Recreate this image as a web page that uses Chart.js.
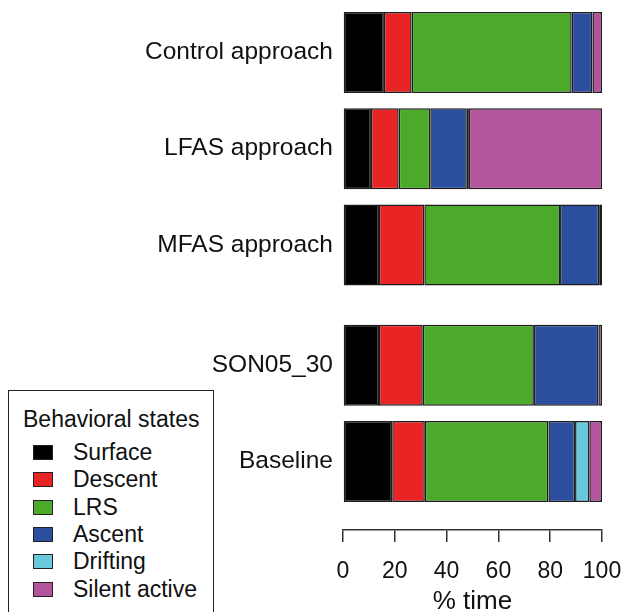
<!DOCTYPE html>
<html>
<head>
<meta charset="utf-8">
<script src="https://cdn.jsdelivr.net/npm/chart.js@4.4.1/dist/chart.umd.min.js"></script>
<style>
  html, body { margin: 0; padding: 0; background: #fff; }
  #cadre { position: relative; width: 622px; height: 612px; overflow: hidden; }
  #legende {
    position: absolute; left: 8px; top: 390px; width: 204px; height: 240px;
    border: 1.5px solid #222; background: #fff;
    font-family: 'Liberation Sans', Arial, sans-serif; color: #111;
  }
  #legende .titre { position: absolute; left: 14px; top: 14px; font-size: 23px; line-height: 28px; }
  #legende .ligne { position: absolute; left: 24px; font-size: 23px; line-height: 28px; height: 28px; }
  #legende .carre {
    position: absolute; left: 0; top: 7px; width: 18px; height: 13px;
    border: 1px solid #222; box-sizing: content-box;
  }
  #legende .texte { position: absolute; left: 40px; top: 0; white-space: nowrap; }
</style>
</head>
<body>
<div id="cadre">
  <canvas id="graphique" width="622" height="612"></canvas>
  <div id="legende"></div>
</div>
<script>
// ================================
// DONNÉES
// ================================

// categories, du haut vers le bas
const CATEGORIES = ['Control approach', 'LFAS approach', 'MFAS approach', 'SON05_30', 'Baseline'];
// position de chaque barre sur l'axe (écart plus grand avant SON05_30)
const POSITIONS = [4.25, 3.25, 2.25, 1, 0];

const ETATS = ['Surface', 'Descent', 'LRS', 'Ascent', 'Drifting', 'Silent active'];
const COULEURS = ['#000000', '#e82424', '#4caa2b', '#2b4f9e', '#68c8dc', '#b3559c'];

// % du temps par état
const SURFACE  = [15.8, 10.8, 13.9, 13.9, 19.0];
const DESCENT  = [10.7, 10.7, 17.5, 16.9, 12.6];
const LRS      = [61.8, 12.2, 52.4, 42.9, 47.7];
const ASCENT   = [ 8.0, 14.1, 15.1, 24.9, 10.3];
const DRIFTING = [ 0.0,  0.8,  0.0,  0.0,  5.5];
const SILENT   = [ 3.7, 51.4,  1.1,  1.4,  4.9];

const X_TICKS = [0, 20, 40, 60, 80, 100];

const POLICE = "'Liberation Sans', Arial, sans-serif";

// ================================
// GRAPHIQUE
// ================================

const series = [SURFACE, DESCENT, LRS, ASCENT, DRIFTING, SILENT];

const datasets = series.map(function(valeurs, i) {
  return {
    label: ETATS[i],
    data: valeurs.map(function(v, j) { return { x: v, y: POSITIONS[j] }; }),
    backgroundColor: COULEURS[i],
    borderColor: '#1c1c1c',
    borderWidth: 1.5,
    borderSkipped: false,
    barPercentage: 0.84,
    categoryPercentage: 1
  };
});

new Chart(document.getElementById('graphique'), {
  type: 'bar',
  data: { datasets: datasets },
  options: {
    indexAxis: 'y',
    responsive: false,
    animation: false,
    layout: { padding: { top: 4, right: 20, bottom: 0, left: 0 } },
    plugins: {
      legend: { display: false },
      tooltip: { enabled: false }
    },
    scales: {
      x: {
        type: 'linear',
        stacked: true,
        min: 0,
        max: 100,
        afterBuildTicks: function(scale) {
          scale.ticks = X_TICKS.map(function(v) { return { value: v }; });
        },
        afterFit: function(scale) {
          scale.height = 82;
          scale.paddingLeft = 0;
          scale.paddingRight = 0;
        },
        ticks: { color: '#111', padding: 16, font: { family: POLICE, size: 23 } },
        grid: { drawOnChartArea: false, drawTicks: true, tickLength: 12, color: '#333', lineWidth: 1.5 },
        border: { display: true, color: '#333', width: 1.5 },
        title: {
          display: true,
          text: '% time',
          color: '#111',
          padding: { top: 0, bottom: -3 },
          font: { family: POLICE, size: 26, lineHeight: 1 }
        }
      },
      y: {
        type: 'linear',
        stacked: true,
        offset: false,
        min: -0.712,
        max: 4.754,
        afterBuildTicks: function(scale) {
          scale.ticks = POSITIONS.map(function(v) { return { value: v }; });
        },
        afterFit: function(scale) {
          scale.width = 343;
          scale.paddingTop = 0;
          scale.paddingBottom = 0;
        },
        ticks: {
          color: '#111',
          padding: 2,
          font: { family: POLICE, size: 24.5 },
          callback: function(valeur) {
            const i = POSITIONS.indexOf(valeur);
            return i >= 0 ? CATEGORIES[i] : '';
          }
        },
        grid: { display: false },
        border: { display: false }
      }
    }
  }
});

// ================================
// LÉGENDE
// ================================

const legende = document.getElementById('legende');
let html = '<div class="titre">Behavioral states</div>';
ETATS.forEach(function(nom, i) {
  const haut = 47 + i * 27.3;
  html += '<div class="ligne" style="top:' + haut + 'px">' +
          '<span class="carre" style="background:' + COULEURS[i] + '"></span>' +
          '<span class="texte">' + nom + '</span></div>';
});
legende.innerHTML = html;
</script>
</body>
</html>
